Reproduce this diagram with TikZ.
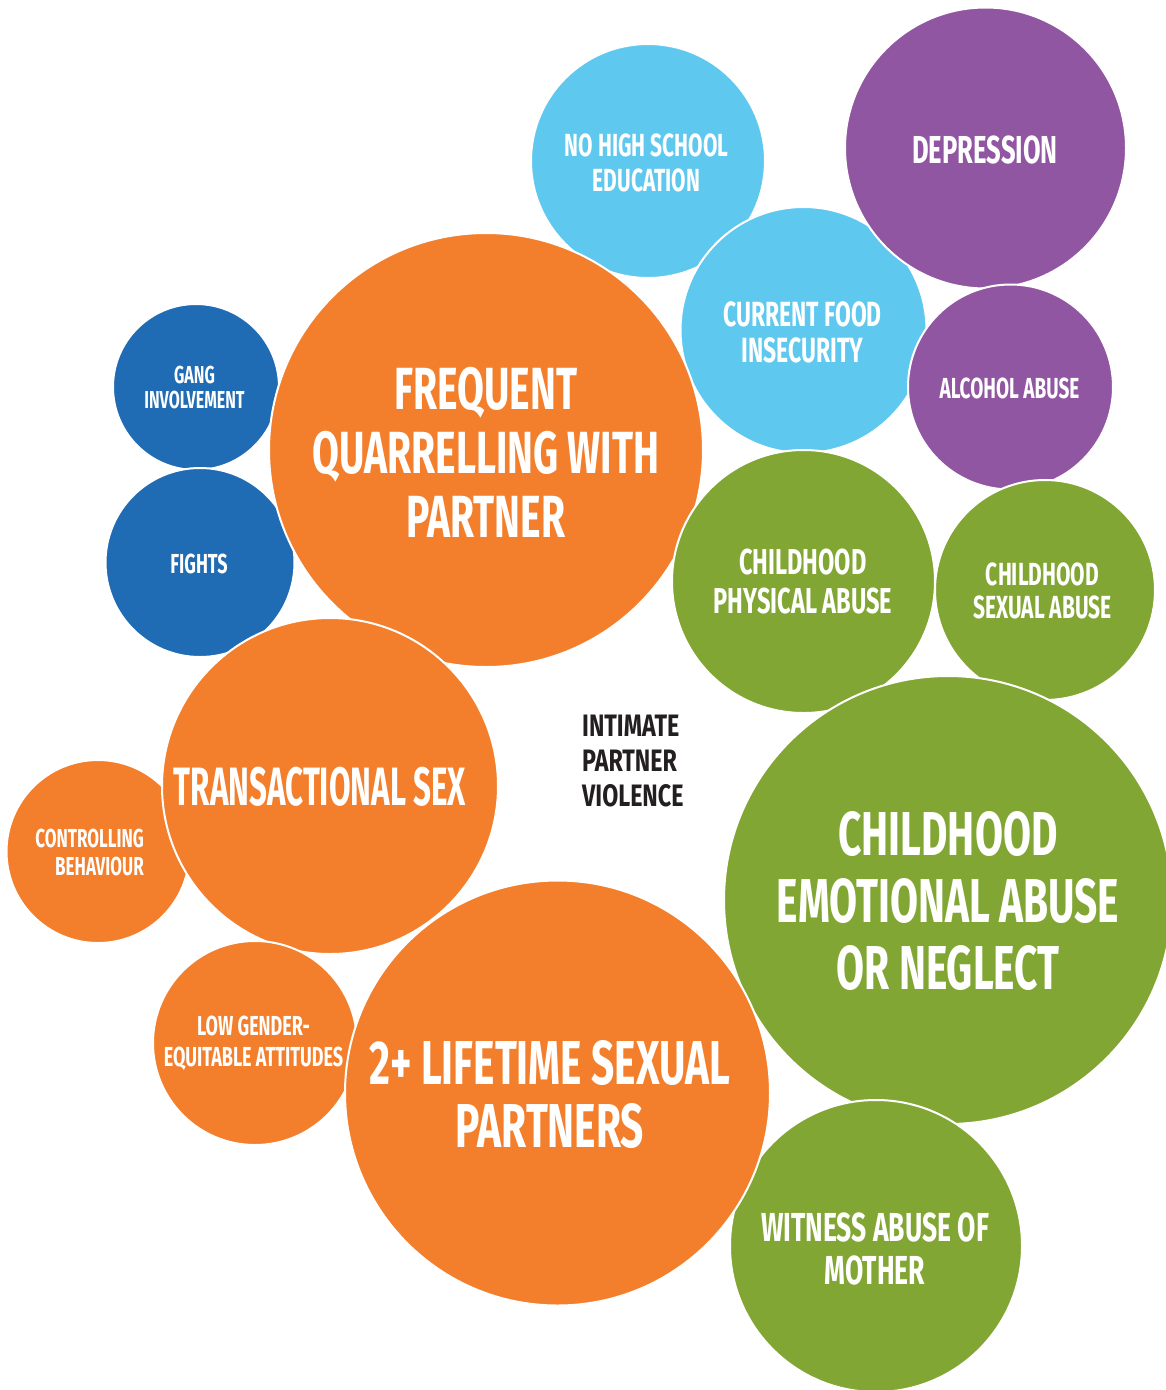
\documentclass[tikz,border=0pt]{standalone}
\usepackage{fontspec}
\newfontfamily\bubfont[FakeStretch=0.655]{Fira Sans}
\newfontfamily\bubnarrow[FakeStretch=0.58]{Fira Sans}
\newfontfamily\bubwide[FakeStretch=0.75]{Fira Sans}
\definecolor{borange}{HTML}{F37F2C}
\definecolor{lblue}{HTML}{5FC8EF}
\definecolor{dblue}{HTML}{1F6BB4}
\definecolor{bpurple}{HTML}{9156A2}
\definecolor{bgreen}{HTML}{82A634}
\definecolor{ink}{HTML}{231F20}
\begin{document}
\begin{tikzpicture}[x=1pt,y=-1pt,
  bub/.style={circle, draw=white, line width=2pt, inner sep=0pt, minimum size=#1},
  lbl/.style n args={2}{text=white, align=center, inner sep=0pt,
    font=\bubfont\bfseries\fontsize{#1}{#2}\selectfont}]
\useasboundingbox (0,0) rectangle (1166,1390);
\clip (0,0) rectangle (1166,1390);
% circles (bottom to top)
\node[bub=234pt, fill=lblue] (nohs) at (648,161) {};
\node[bub=246pt, fill=lblue] (food) at (803.5,330) {};
\node[bub=281pt, fill=bpurple] (depr) at (985.5,148) {};
\node[bub=205pt, fill=bpurple] (alco) at (1010.5,387) {};
\node[bub=166pt, fill=dblue] (gang) at (196,387) {};
\node[bub=189pt, fill=dblue] (figh) at (200,562.5) {};
\node[bub=434pt, fill=borange] (quar) at (486,450) {};
\node[bub=183pt, fill=borange] (ctrl) at (98,851.5) {};
\node[bub=336pt, fill=borange] (trans) at (330,786) {};
\node[bub=204pt, fill=borange] (lowg) at (255,1043) {};
\node[bub=263pt, fill=bgreen] (phys) at (803.5,581.5) {};
\node[bub=220pt, fill=bgreen] (sexa) at (1045,590) {};
\node[bub=448pt, fill=bgreen] (emot) at (948,900) {};
\node[bub=292pt, fill=bgreen] (witn) at (876,1246) {};
\node[bub=425pt, fill=borange] (life) at (557.5,1093) {};
% labels
\node[lbl={32}{35}] (tnohs) at (646.5,162.5) {NO HIGH SCHOOL\\EDUCATION};
\node[lbl={35}{36}] (tfood) at (802.5,332) {CURRENT FOOD\\INSECURITY};
\node[lbl={39}{40}] (tdepr) at (985,149.5) {DEPRESSION};
\node[lbl={29}{30}] (talco) at (1009.5,388) {ALCOHOL ABUSE};
\node[lbl={24.5}{25}] (tgang) at (194.5,388) {GANG\\INVOLVEMENT};
\node[lbl={27.5}{28}] (tfigh) at (199,563.5) {FIGHTS};
\node[lbl={59.5}{64}] (tquar) at (486,452) {FREQUENT\\QUARRELLING WITH\\PARTNER};
\node[lbl={26}{28}, align=right, anchor=east] (tctrl) at (144,852) {CONTROLLING\\BEHAVIOUR};
\node[lbl={54}{56}, font=\bubnarrow\bfseries\fontsize{54}{56}\selectfont] (ttrans) at (320,786.5) {TRANSACTIONAL SEX};
\node[lbl={27.5}{31}] (tlowg) at (253.5,1043) {LOW GENDER-\\EQUITABLE ATTITUDES};
\node[lbl={36}{39}] (tphys) at (803,582) {CHILDHOOD\\PHYSICAL ABUSE};
\node[lbl={32}{33}] (tsexa) at (1042.5,590.5) {CHILDHOOD\\SEXUAL ABUSE};
\node[lbl={62}{67}] (temot) at (948,901.5) {CHILDHOOD\\EMOTIONAL ABUSE\\OR NEGLECT};
\node[lbl={40.5}{43}] (twitn) at (875,1248.5) {WITNESS ABUSE OF\\MOTHER};
\node[lbl={62}{63}] (tlife) at (550,1095) {2+ LIFETIME SEXUAL\\PARTNERS};
\node[lbl={31}{35}, font=\bubwide\bfseries\fontsize{31}{35}\selectfont, text=ink, align=left, anchor=west] (tipv) at (582,761.5) {INTIMATE\\PARTNER\\VIOLENCE};
\end{tikzpicture}
\end{document}
